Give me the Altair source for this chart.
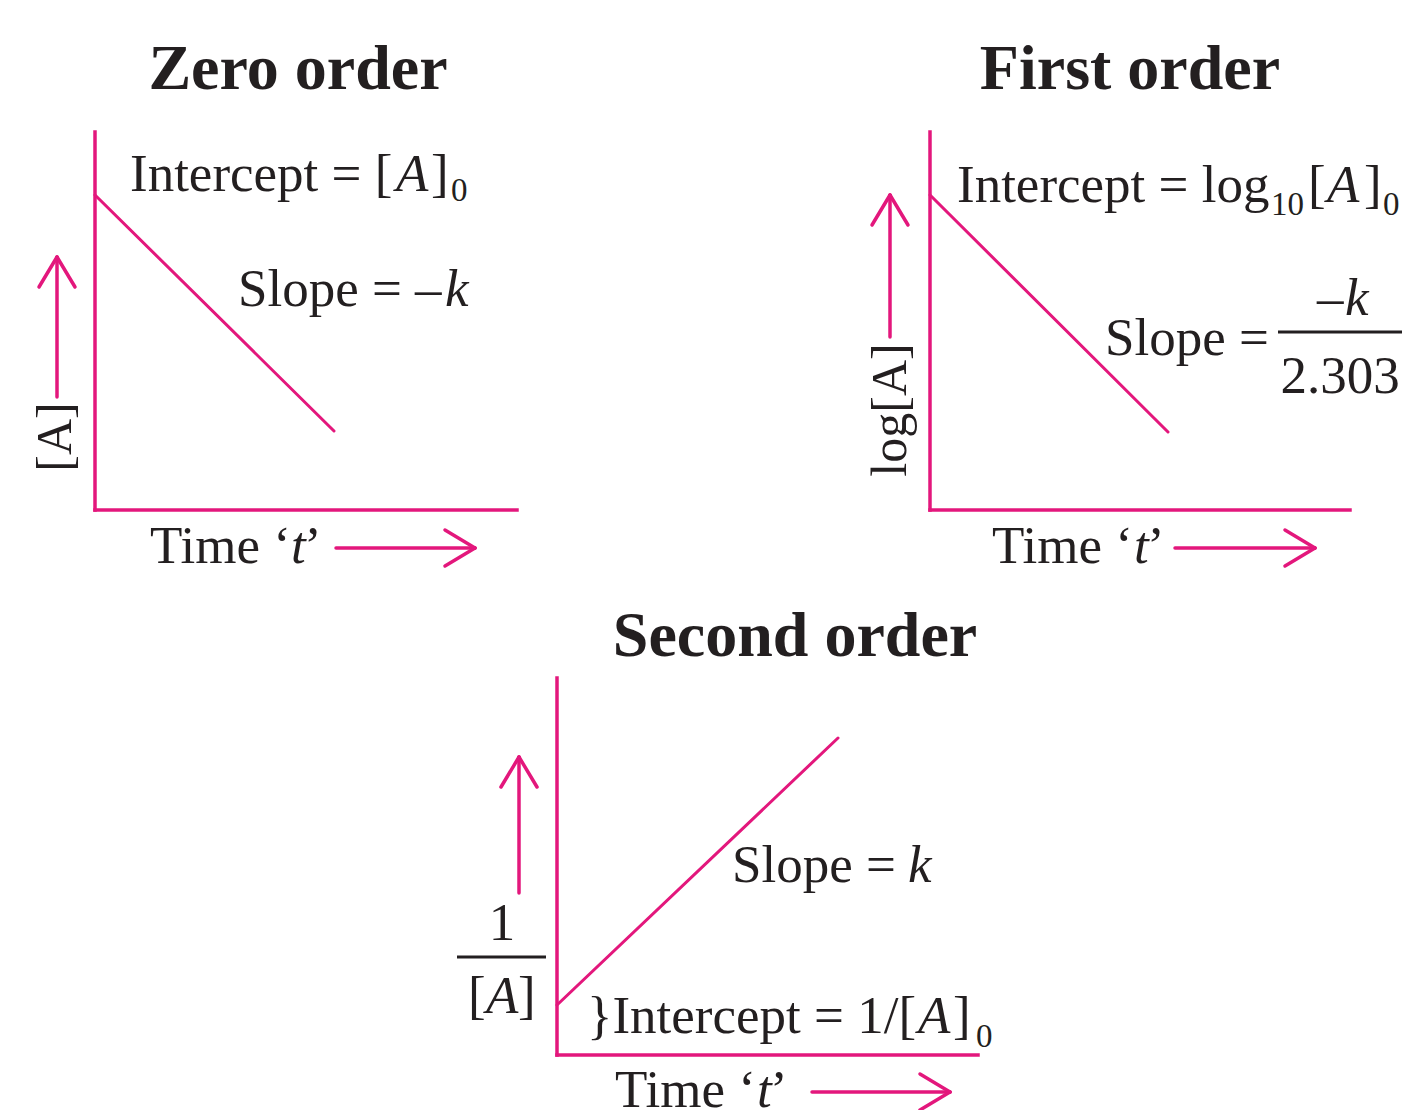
import math
import altair as alt
import pandas as pd

PINK = "#E3177C"
INK = "#231F20"
FONT = "Liberation Serif"

# ---- diagram coordinates (figure pixels, origin top-left) ----
X_DOMAIN = [8, 1411]
Y_DOMAIN = [8, 1110]

# axes of the three panels: zero order, first order, second order
axis_x1 = [95, 95, 930, 930, 557, 557]
axis_y1 = [132, 510, 132, 510, 678, 1055]
axis_x2 = [95, 517, 930, 1350, 557, 978]
axis_y2 = [510, 510, 510, 510, 1055, 1055]

# straight-line plots (intercept point -> end point)
trend_x1 = [95, 930, 557]
trend_y1 = [195, 195, 1005]
trend_x2 = [334, 1168, 838]
trend_y2 = [431, 432, 738]

# direction arrows (tail -> tip)
arrow_tail_x = [57, 336, 890, 1175, 519, 812]
arrow_tail_y = [397, 548, 337, 548, 893, 1092]
arrow_tip_x = [57, 475, 890, 1315, 519, 950]
arrow_tip_y = [257, 548, 195, 548, 757, 1092]

# fraction bars (-k / 2.303 and 1 / [A])
bar_x1 = [1278, 457]
bar_x2 = [1402, 546]
bar_y = [332, 957]

# text pieces
reg_text = ["Intercept = [", "]", "Slope = –", "Time ‘", "’",
            "Intercept = log", "[", "]", "Slope =", "–", "Time ‘", "’",
            "Slope = ", "}Intercept = 1/[", "]", "[", "]", "Time ‘", "’"]
reg_x = [130, 431, 238, 150, 304,
         957, 1308, 1364, 1105, 1317, 992, 1147,
         732, 587, 953, 468, 518, 615, 770]
reg_y = [191, 191, 306, 563, 563,
         202, 202, 202, 355, 315, 563, 563,
         882, 1033, 1033, 1013, 1013, 1107, 1107]

ita_text = ["A", "k", "t", "A", "k", "t", "k", "A", "A", "t"]
ita_x = [396, 445, 291, 1327, 1345, 1134, 908, 918, 486, 757]
ita_y = [191, 306, 563, 202, 315, 563, 882, 1033, 1013, 1107]

sub_text = ["0", "10", "0", "0"]
sub_x = [451, 1271, 1383, 976]
sub_y = [201, 215, 215, 1047]

center_text = ["2.303", "1"]
center_x = [1340, 502]
center_y = [393, 940]

rot_text = ["[A]", "log[A]"]
rot_x = [56, 891]
rot_y = [437, 410]

title_text = ["Zero order", "First order", "Second order"]
title_x = [298, 1130, 795]
title_y = [89, 89, 656]

# ---- tables ----
axes_df = pd.DataFrame({"x1": axis_x1, "y1": axis_y1, "x2": axis_x2, "y2": axis_y2})
trend_df = pd.DataFrame({"x1": trend_x1, "y1": trend_y1, "x2": trend_x2, "y2": trend_y2})

HEAD_LEN, HEAD_HALF = 30, 18
arrow_rows = []
for tx, ty, hx, hy in zip(arrow_tail_x, arrow_tail_y, arrow_tip_x, arrow_tip_y):
    arrow_rows.append({"x1": tx, "y1": ty, "x2": hx, "y2": hy})
    L = math.hypot(hx - tx, hy - ty)
    ux, uy = (hx - tx) / L, (hy - ty) / L
    px, py = -uy, ux
    for s in (1, -1):
        arrow_rows.append({"x1": hx, "y1": hy,
                           "x2": hx - HEAD_LEN * ux + s * HEAD_HALF * px,
                           "y2": hy - HEAD_LEN * uy + s * HEAD_HALF * py})
arrow_df = pd.DataFrame(arrow_rows)
bar_df = pd.DataFrame({"x1": bar_x1, "x2": bar_x2, "y1": bar_y, "y2": bar_y})

xs = alt.Scale(domain=X_DOMAIN, nice=False, zero=False)
ys = alt.Scale(domain=Y_DOMAIN, nice=False, zero=False, reverse=True)


def rules(df, **mark):
    return alt.Chart(df).mark_rule(**mark).encode(
        x=alt.X("x1:Q", scale=xs, axis=None),
        y=alt.Y("y1:Q", scale=ys, axis=None),
        x2="x2:Q", y2="y2:Q",
    )


def texts(t, x, y, **mark):
    df = pd.DataFrame({"t": t, "x": x, "y": y})
    return alt.Chart(df).mark_text(font=FONT, color=INK, **mark).encode(
        x=alt.X("x:Q", scale=xs, axis=None),
        y=alt.Y("y:Q", scale=ys, axis=None),
        text="t:N",
    )


layers = [
    rules(axes_df, color=PINK, strokeWidth=3.5, strokeCap="square"),
    rules(trend_df, color=PINK, strokeWidth=3, strokeCap="round"),
    rules(arrow_df, color=PINK, strokeWidth=3.5, strokeCap="round"),
    rules(bar_df, color=INK, strokeWidth=3),
    texts(reg_text, reg_x, reg_y, fontSize=53, align="left", baseline="alphabetic"),
    texts(ita_text, ita_x, ita_y, fontSize=53, fontStyle="italic", align="left", baseline="alphabetic"),
    texts(sub_text, sub_x, sub_y, fontSize=33, align="left", baseline="alphabetic"),
    texts(center_text, center_x, center_y, fontSize=53, align="center", baseline="alphabetic"),
    texts(rot_text, rot_x, rot_y, fontSize=50, angle=270, align="center", baseline="middle"),
    texts(title_text, title_x, title_y, fontSize=64, fontWeight="bold", align="center", baseline="alphabetic"),
]

chart = alt.layer(*layers).properties(
    width=X_DOMAIN[1] - X_DOMAIN[0],
    height=Y_DOMAIN[1] - Y_DOMAIN[0],
    padding=0,
    autosize=alt.AutoSizeParams(type="none"),
    background="white",
).configure_view(stroke=None)

chart.save("out.html", embed_options={"renderer": "svg", "actions": False})
